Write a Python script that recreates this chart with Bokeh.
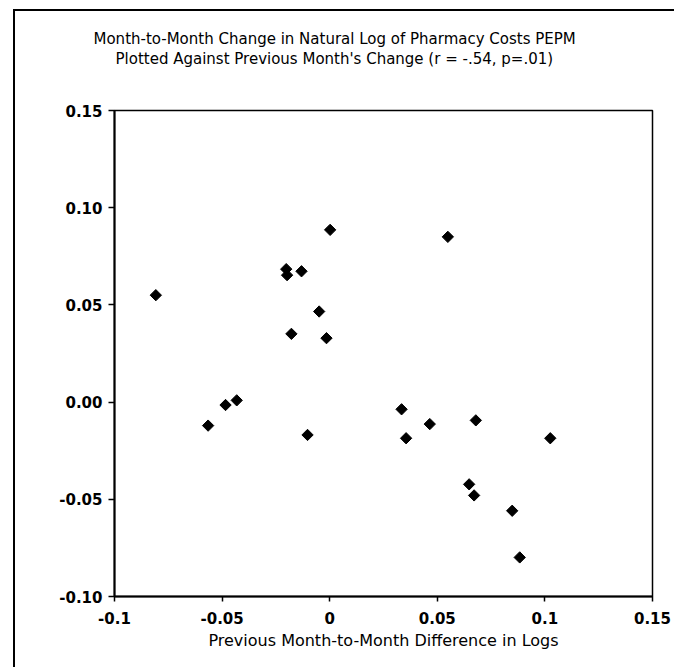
import math
from bokeh.plotting import figure
from bokeh.models import Range1d, FixedTicker, Title, ColumnDataSource
from bokeh.embed import file_html
from bokeh.resources import INLINE

# ---- data ----
prev_change = [-0.0808, 0.0002, -0.0202, -0.0198, -0.0131, -0.0049, -0.0178, -0.0015,
               -0.0565, -0.0484, -0.0432, -0.0103, 0.0549, 0.0334, 0.0355, 0.0465,
               0.0679, 0.1025, 0.0648, 0.0671, 0.0848, 0.0883]
curr_change = [0.0550, 0.0886, 0.0684, 0.0653, 0.0673, 0.0466, 0.0351, 0.0329,
               -0.0121, -0.0015, 0.0009, -0.0169, 0.0850, -0.0037, -0.0186, -0.0113,
               -0.0094, -0.0186, -0.0423, -0.0480, -0.0559, -0.0799]
x_ticks = [-0.1, -0.05, 0.0, 0.05, 0.1, 0.15]
x_tick_labels = ["-0.1", "-0.05", "0", "0.05", "0.1", "0.15"]
y_ticks = [-0.10, -0.05, 0.0, 0.05, 0.10, 0.15]
y_tick_labels = ["-0.10", "-0.05", "0.00", "0.05", "0.10", "0.15"]
title_lines = ["Month-to-Month Change in Natural Log of Pharmacy Costs PEPM",
               "Plotted Against Previous Month's Change (r = -.54, p=.01)"]
x_title = "Previous Month-to-Month Difference in Logs"

FONT = "DejaVu Sans"
ML, MT = 13, 9   # outer chart-area frame offset

p = figure(width=676 - ML - 2, height=667 - MT - 2, output_backend="svg", toolbar_location=None,
           x_range=Range1d(-0.1, 0.15), y_range=Range1d(-0.10, 0.15),
           frame_width=538, frame_height=486,
           min_border_left=114 - ML - 2, min_border_right=676 - 652 - 2,
           min_border_top=110 - MT - 2, min_border_bottom=667 - 596)
p.styles = {"border-left": "2px solid black", "border-top": "2px solid black",
            "margin-left": f"{ML}px", "margin-top": f"{MT}px"}
p.background_fill_color = "white"
p.border_fill_color = "white"
p.outline_line_color = "black"
p.outline_line_width = 1.5
p.xgrid.visible = False
p.ygrid.visible = False

for ax, ticks, labels in ((p.xaxis[0], x_ticks, x_tick_labels), (p.yaxis[0], y_ticks, y_tick_labels)):
    ax.ticker = FixedTicker(ticks=ticks)
    ax.major_label_overrides = {t: l for t, l in zip(ticks, labels)}
    ax.minor_tick_line_color = None
    ax.axis_line_color = "black"
    ax.axis_line_width = 2
    ax.major_tick_line_color = "black"
    ax.major_tick_line_width = 1.5
    ax.major_tick_in = 0
    ax.major_tick_out = 5
    ax.major_label_text_font = FONT
    ax.major_label_text_font_style = "bold"
    ax.major_label_text_font_size = "15px"
    ax.major_label_text_color = "black"
p.yaxis[0].major_tick_out = 6
p.yaxis[0].major_label_standoff = 6
p.xaxis[0].major_label_standoff = 10

p.xaxis[0].axis_label = x_title
p.xaxis[0].axis_label_text_font = FONT
p.xaxis[0].axis_label_text_font_style = "normal"
p.xaxis[0].axis_label_text_font_size = "16px"
p.xaxis[0].axis_label_text_color = "black"
p.xaxis[0].axis_label_standoff = 4

src = ColumnDataSource(dict(x=prev_change, y=curr_change))
p.scatter("x", "y", source=src, marker="square", angle=math.pi / 4, size=8,
          fill_color="black", line_color="black")

# titles: spacer closest to frame, then line 2, then line 1
p.add_layout(Title(text=" ", text_font_size="27.5px"), "above")
for t, off in zip(reversed(title_lines), [1, -21]):
    p.add_layout(Title(text=t, align="left", offset=off, text_font=FONT,
                       text_font_size="15px", text_font_style="normal",
                       text_color="black", standoff=0), "above")

open("out.html", "w").write(file_html(p, INLINE))
